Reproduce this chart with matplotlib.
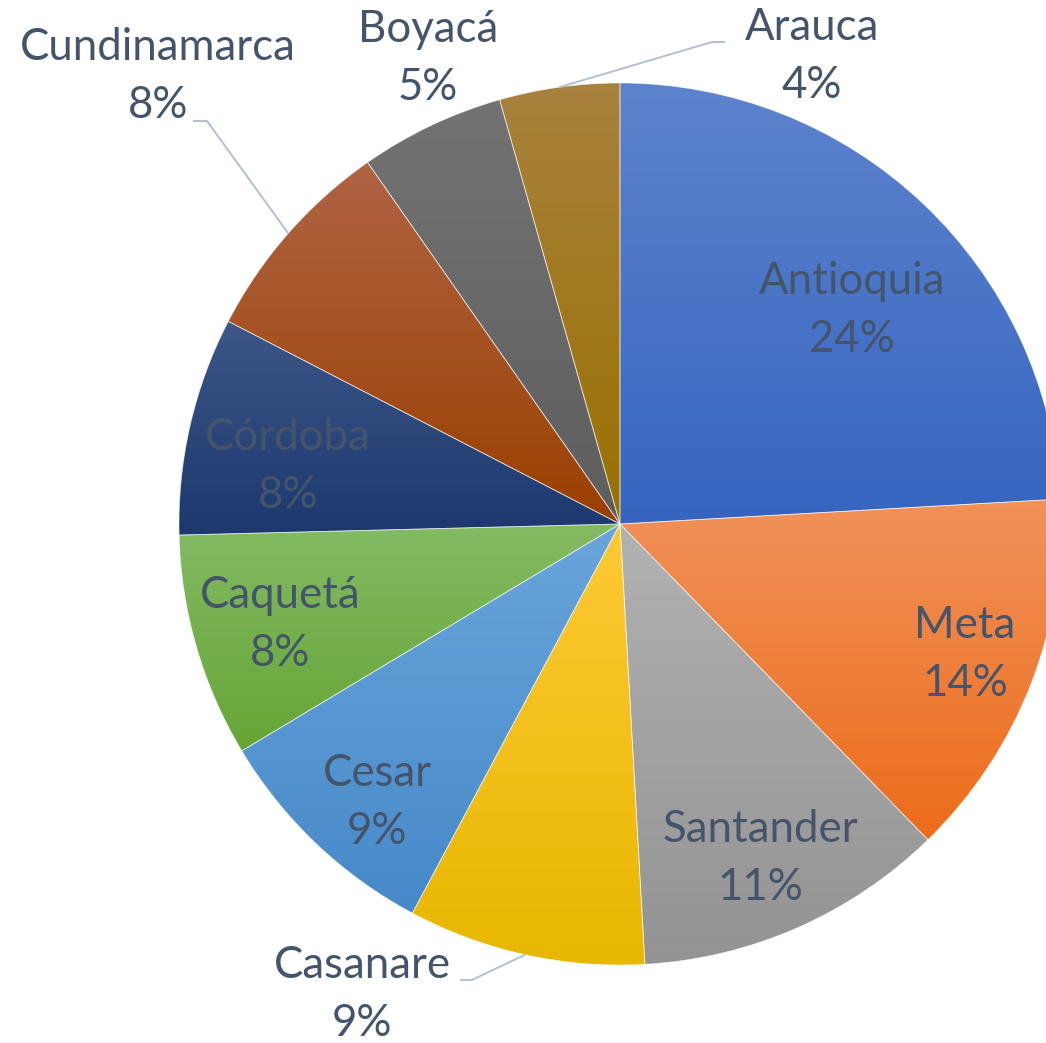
import numpy as np
import matplotlib
matplotlib.use("Agg")
import matplotlib.pyplot as plt
from matplotlib.colors import to_rgb

plt.rcParams['font.family'] = ['Lato', 'DejaVu Sans']

# data (share of total, clockwise from 12 o'clock)
departments = ["Antioquia", "Meta", "Santander", "Casanare", "Cesar",
               "Caquetá", "Córdoba", "Cundinamarca", "Boyacá", "Arauca"]
shares = [24.1, 13.6, 11.4, 8.7, 8.6, 8.2, 8.0, 7.7, 5.3, 4.4]
pct_labels = ["24%", "14%", "11%", "9%", "9%", "8%", "8%", "8%", "5%", "4%"]

# gradient colours (top, bottom) per slice, office-like palette
grad_top = ["#5E83CD", "#F1925A", "#B2B2B2", "#FFC935", "#6AA5DB",
            "#83BB64", "#3E5688", "#B06444", "#737373", "#A8823E"]
grad_bot = ["#3565C0", "#EC6C1A", "#939393", "#E8B700", "#4689C8",
            "#66A535", "#1C386E", "#9A3F00", "#5E5E5E", "#9A7000"]

W, H = 1046, 1043
cx, cy, R = 620, H - 524, 441
text_col = "#44546A"
leader_col = "#B4C0D0"

# label centres in pixel space (x, y from top)
label_xy = [(852, 311), (965, 654), (760, 859), (362, 995), (377, 802),
            (280, 625), (288, 466), (158, 76), (428, 58), (812, 57)]
# leader lines: elbow and end point (pixel space) for outside labels
leaders = {3: [(472, 980), (460, 980)],
           7: [(207, 121), (193, 121)],
           9: [(712, 42), (725, 42)]}

fig = plt.figure(figsize=(W / 100, H / 100), dpi=100)
ax = fig.add_axes([0, 0, 1, 1])

wedges, _ = ax.pie(shares, startangle=90, counterclock=False,
                   center=(cx, cy), radius=R,
                   wedgeprops=dict(edgecolor=(1, 1, 1, 0.55), linewidth=0.6))

for i, w in enumerate(wedges):
    bb = w.get_path().get_extents()
    c0 = np.array(to_rgb(grad_top[i]))
    c1 = np.array(to_rgb(grad_bot[i]))
    t = np.linspace(0, 1, 256)[:, None]
    img = (c0 * (1 - t) + c1 * t)[:, None, :]
    im = ax.imshow(img, extent=(bb.x0, bb.x1, bb.y0, bb.y1), origin="upper",
                   aspect="auto", interpolation="bilinear", zorder=1)
    im.set_clip_path(w)
    w.set_facecolor("none")
    w.set_zorder(2)

    # leader lines
    if i in leaders:
        mid = np.deg2rad((w.theta1 + w.theta2) / 2)
        px = [cx + R * np.cos(mid)] + [p[0] for p in leaders[i]]
        py = [cy + R * np.sin(mid)] + [H - p[1] for p in leaders[i]]
        ax.plot(px, py, color=leader_col, lw=1.4, zorder=3,
                solid_capstyle="butt")

    lx, ly = label_xy[i]
    ax.text(lx, H - ly + 29, departments[i], ha="center", va="center",
            fontsize=31.5, color=text_col, zorder=4)
    ax.text(lx, H - ly - 29, pct_labels[i], ha="center", va="center",
            fontsize=31.5, color=text_col, zorder=4)

ax.set_xlim(0, W)
ax.set_ylim(0, H)
ax.set_aspect("equal")
ax.axis("off")

fig.savefig("out.png", dpi=100, facecolor="white")
